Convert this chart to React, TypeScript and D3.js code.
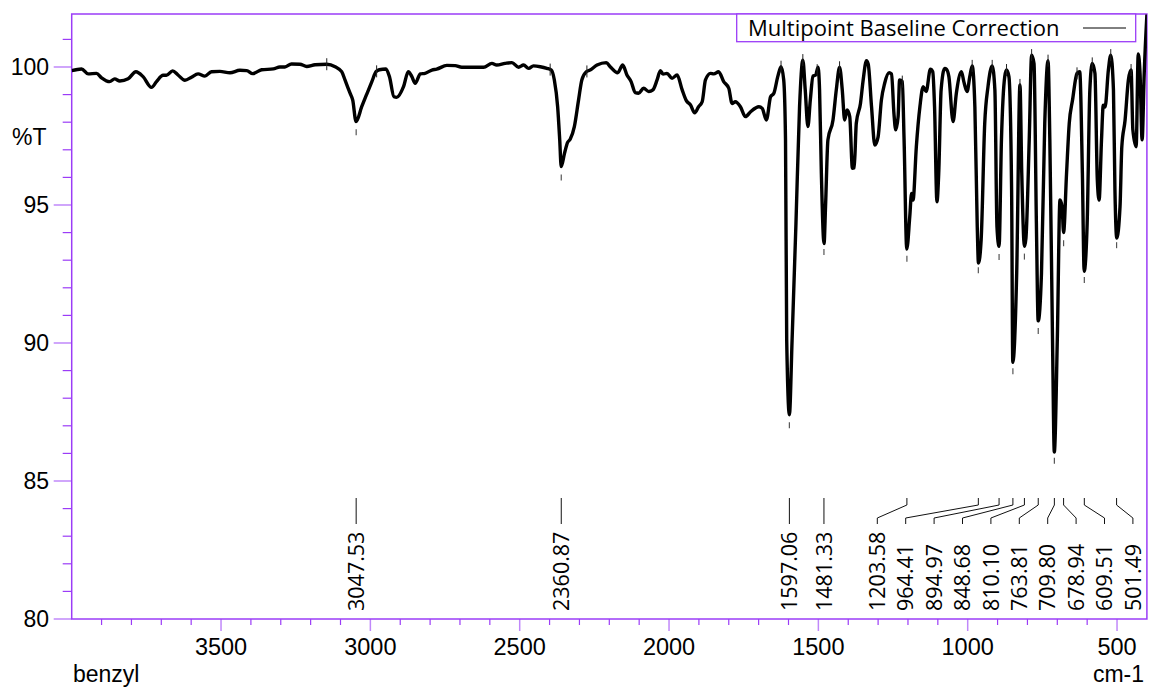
import React from 'react';
import * as d3 from 'd3';

// IR spectrum (cm-1, %T)
const wavenumbers = [
  4000, 3967, 3945, 3917, 3900, 3873, 3856, 3839, 3811, 3785,
  3761, 3733, 3716, 3694, 3683, 3662, 3644, 3621, 3599, 3577,
  3554, 3532, 3504, 3470, 3437, 3414, 3394, 3364, 3325, 3303,
  3286, 3264, 3236, 3213, 3185, 3146, 3118, 3096, 3085, 3068,
  3059, 3048, 3029, 3012, 2995, 2981, 2970, 2948, 2936, 2921,
  2912, 2889, 2873, 2861, 2850, 2833, 2817, 2794, 2778, 2744,
  2716, 2694, 2666, 2621, 2593, 2577, 2549, 2526, 2504, 2487,
  2470, 2454, 2431, 2409, 2394, 2384, 2373, 2366, 2361, 2350,
  2340, 2331, 2317, 2303, 2292, 2277, 2264, 2241, 2210, 2197,
  2172, 2155, 2141, 2127, 2113, 2102, 2085, 2068, 2054, 2040,
  2029, 2020, 2007, 1990, 1973, 1956, 1942, 1928, 1914, 1901,
  1889, 1878, 1861, 1850, 1834, 1817, 1800, 1789, 1778, 1761,
  1744, 1727, 1699, 1688, 1674, 1660, 1649, 1636, 1625, 1616,
  1610, 1606, 1597, 1588, 1575, 1563, 1552, 1544, 1535, 1527,
  1518, 1509, 1501, 1496, 1490, 1481, 1476, 1468, 1451, 1440,
  1429, 1420, 1412, 1404, 1395, 1386, 1380, 1373, 1359, 1350,
  1339, 1333, 1322, 1311, 1300, 1289, 1278, 1263, 1255, 1247,
  1241, 1233, 1228, 1219, 1213, 1204, 1194, 1188, 1183, 1172,
  1160, 1149, 1139, 1125, 1117, 1111, 1103, 1097, 1089, 1077,
  1071, 1063, 1049, 1038, 1021, 1013, 1002, 993, 985, 976,
  968, 964, 955, 943, 932, 918, 909, 902, 895, 887,
  876, 870, 862, 853, 849, 836, 825, 819, 810, 805,
  794, 786, 778, 770, 764, 753, 742, 731, 725, 716,
  710, 700, 691, 684, 679, 669, 660, 649, 634, 625,
  616, 610, 600, 591, 583, 574, 566, 560, 552, 546,
  540, 529, 521, 512, 507, 501, 490, 484, 473, 462,
  453, 447, 436, 429, 423, 416, 409, 400,
];

const transmittance = [
  99.87, 99.93, 99.75, 99.77, 99.61, 99.47, 99.57, 99.49, 99.57, 99.83,
  99.65, 99.26, 99.47, 99.70, 99.70, 99.86, 99.71, 99.52, 99.63, 99.75,
  99.67, 99.83, 99.84, 99.79, 99.88, 99.87, 99.76, 99.90, 99.93, 100.0,
  100.0, 100.11, 100.1, 100.02, 100.08, 100.1, 100.01, 99.83, 99.53, 99.05,
  98.8, 98.02, 98.56, 99.02, 99.47, 99.83, 99.9, 99.93, 99.65, 98.92,
  98.9, 99.29, 99.83, 99.65, 99.41, 99.75, 99.77, 99.89, 99.92, 100.06,
  100.05, 99.99, 99.99, 99.99, 100.13, 100.07, 100.13, 100.16, 99.99, 100.07,
  99.95, 100.04, 100.01, 99.95, 99.89, 99.53, 98.56, 97.36, 96.39, 96.87,
  97.26, 97.38, 97.84, 98.8, 99.53, 99.83, 99.89, 100.07, 100.16, 100.01,
  99.79, 100.07, 99.71, 99.47, 99.07, 99.05, 99.23, 99.11, 99.17, 99.53,
  99.87, 99.74, 99.77, 99.59, 99.71, 99.17, 98.78, 98.62, 98.34, 98.56,
  98.74, 99.53, 99.77, 99.75, 99.83, 99.47, 99.23, 98.68, 98.74, 98.56,
  98.2, 98.38, 98.56, 98.5, 98.08, 98.92, 99.05, 99.65, 100.01, 99.53,
  97.36, 90.1, 87.4, 90.1, 94.34, 98.56, 100.25, 99.17, 97.84, 98.8,
  99.67, 99.71, 99.99, 99.17, 96.15, 93.6, 94.94, 97.36, 98.08, 99.17,
  99.99, 99.17, 98.08, 98.44, 98.2, 96.33, 96.35, 97.96, 98.68, 99.53,
  100.23, 100.1, 98.56, 97.17, 97.47, 98.8, 99.41, 99.79, 99.75, 98.32,
  97.72, 98.2, 99.53, 99.47, 97.36, 93.4, 94.58, 95.42, 95.18, 97.11,
  98.56, 99.29, 99.11, 99.92, 99.83, 98.56, 95.12, 96.15, 99.17, 99.95,
  99.92, 99.65, 98.02, 99.05, 99.83, 99.47, 99.11, 99.65, 100.04, 98.56,
  94.21, 92.9, 93.73, 97.96, 99.29, 100.04, 99.17, 94.21, 93.5, 97.36,
  99.65, 99.89, 99.65, 95.54, 89.3, 92.52, 99.35, 96.15, 93.5, 93.8,
  97.36, 100.43, 100.13, 94.34, 90.8, 92.52, 97.96, 100.23, 97.36, 90.11,
  86.05, 90.11, 95.18, 94.94, 94.0, 96.15, 97.96, 98.8, 99.77, 99.83,
  96.15, 92.6, 94.34, 99.17, 100.13, 99.77, 95.91, 95.18, 97.36, 98.62,
  98.55, 99.89, 100.43, 99.17, 95.54, 93.8, 94.94, 97.11, 98.08, 99.53,
  99.89, 97.72, 97.11, 100.47, 99.77, 97.36, 99.77, 101.9,
];

const peakLabels = [
  3047.53, 2360.87, 1597.06, 1481.33, 1203.58, 964.41, 894.97,
  848.68, 810.1, 763.81, 709.8, 678.94, 609.51, 501.49,
];

// baseline anchor points of the multipoint correction
const baselinePoints = [
  3146, 2979, 2398, 2275, 1625, 1552, 1504, 1429, 1219, 985,
  918, 870, 825, 786, 731, 634, 583, 521, 453,
];

const xMajorTicks = [3500, 3000, 2500, 2000, 1500, 1000, 500];
const yMajorTicks = [80, 85, 90, 95, 100];

const AXIS = '#9b3cf7';
const MAJOR = '#c088fa';
const TICK_FONT = '"Liberation Sans", Arial, sans-serif';
const LABEL_FONT = '"Open Sans", "Noto Sans", sans-serif';

const frame = { left: 71.7, right: 1146.9, top: 14, bottom: 619 };

function tAt(wn: number) {
  for (let i = 0; i < wavenumbers.length - 1; i++) {
    const a = wavenumbers[i], b = wavenumbers[i + 1];
    if (wn <= a && wn >= b) {
      const t = (a - wn) / (a - b);
      return transmittance[i] + t * (transmittance[i + 1] - transmittance[i]);
    }
  }
  return transmittance[transmittance.length - 1];
}

// spread crowded labels apart, keeping groups centred on their peaks
function layoutLabels(xs: number[], gap: number, lo: number, hi: number) {
  type Cluster = { ids: number[]; sum: number; pos: number };
  const place = (c: Cluster) => {
    const n = c.ids.length;
    let start = c.sum / n - ((n - 1) * gap) / 2;
    start = Math.min(start, hi - (n - 1) * gap);
    start = Math.max(start, lo);
    c.pos = start;
  };
  const clusters: Cluster[] = [];
  xs.forEach((xv, i) => {
    const c: Cluster = { ids: [i], sum: xv, pos: xv };
    place(c);
    clusters.push(c);
    while (clusters.length > 1) {
      const b = clusters[clusters.length - 1];
      const a = clusters[clusters.length - 2];
      if (a.pos + a.ids.length * gap <= b.pos) break;
      a.ids.push(...b.ids);
      a.sum += b.sum;
      clusters.pop();
      place(a);
    }
  });
  const out: number[] = new Array(xs.length);
  clusters.forEach(c => c.ids.forEach((id, k) => (out[id] = c.pos + k * gap)));
  return out;
}

export default function App() {
  const x = d3.scaleLinear().domain([4000, 400]).range([frame.left, frame.right]);
  const y = d3.scaleLinear().domain([80, 101.92]).range([frame.bottom, frame.top]);

  const pts = wavenumbers.map((w, i) => [x(w), y(transmittance[i])] as [number, number]);
  const path = d3.line().curve(d3.curveMonotoneX)(pts) || '';

  const xMinor = d3.range(3900, 400, -100).filter(v => v % 500 !== 0);
  const yMinor = d3.range(81, 102).filter(v => v % 5 !== 0);

  const peakX = peakLabels.map(p => x(p));
  const labelX = layoutLabels(peakX, 28.4, frame.left + 14, frame.right - 14);

  return (
    <svg width={1149} height={689} style={{ position: 'absolute', left: 0, top: 0, background: '#fff' }}>
      <defs>
        <clipPath id="plot">
          <rect x={frame.left} y={frame.top} width={frame.right - frame.left} height={frame.bottom - frame.top} />
        </clipPath>
      </defs>

      {/* y ticks */}
      {yMinor.map(v => (
        <line key={'ym' + v} x1={frame.left - 9} x2={frame.left} y1={y(v)} y2={y(v)} stroke={AXIS} strokeWidth={1.2} />
      ))}
      {yMajorTicks.map(v => (
        <g key={'yM' + v}>
          <line x1={frame.left - 18} x2={frame.left} y1={y(v)} y2={y(v)} stroke={MAJOR} strokeWidth={1.5} />
          <text x={49} y={y(v)} dy="0.36em" textAnchor="end" fontFamily={TICK_FONT} fontSize={23}>{v}</text>
        </g>
      ))}
      <text x={12} y={137} dy="0.36em" fontFamily={TICK_FONT} fontSize={23}>%T</text>

      {/* x ticks */}
      {xMinor.map(v => (
        <line key={'xm' + v} x1={x(v)} x2={x(v)} y1={frame.bottom} y2={frame.bottom + 6} stroke={AXIS} strokeWidth={1.2} />
      ))}
      {xMajorTicks.map(v => (
        <g key={'xM' + v}>
          <line x1={x(v)} x2={x(v)} y1={frame.bottom} y2={frame.bottom + 12} stroke={MAJOR} strokeWidth={1.5} />
          <text x={x(v)} y={655} textAnchor="middle" fontFamily={TICK_FONT} fontSize={23.5}>{v}</text>
        </g>
      ))}
      <text x={73} y={682} fontFamily={TICK_FONT} fontSize={23}>benzyl</text>
      <text x={1144} y={682} textAnchor="end" fontFamily={TICK_FONT} fontSize={23}>cm-1</text>

      {/* frame */}
      <rect x={frame.left} y={frame.top} width={frame.right - frame.left} height={frame.bottom - frame.top}
        fill="none" stroke={AXIS} strokeWidth={1.5} />

      {/* spectrum */}
      <g clipPath="url(#plot)">
        <path d={path} fill="none" stroke="#000" strokeWidth={3.4} strokeLinejoin="round" />
        {baselinePoints.map(b => (
          <line key={'b' + b} x1={x(b)} x2={x(b)} y1={y(tAt(b)) - 6} y2={y(tAt(b)) + 6} stroke="#222" strokeWidth={1} />
        ))}
      </g>

      {/* peak markers and labels */}
      {peakLabels.map((p, i) => {
        const py = y(tAt(p));
        const px = peakX[i];
        const lx = labelX[i];
        const lead = Math.abs(px - lx) < 0.5
          ? `M${px},498 L${px},524`
          : `M${px},498 L${px},505 L${lx},518 L${lx},524`;
        return (
          <g key={'p' + p}>
            <line x1={px} x2={px} y1={py + 8} y2={py + 14} stroke="#555" strokeWidth={1.2} />
            <path d={lead} fill="none" stroke="#111" strokeWidth={1} />
            <text transform={`translate(${lx},611) rotate(-90)`} dy="0.36em" fontFamily={LABEL_FONT} fontSize={21.5}>
              {p.toFixed(2)}
            </text>
          </g>
        );
      })}

      {/* legend */}
      <rect x={736.7} y={frame.top} width={399} height={27.7} fill="#fff" stroke={AXIS} strokeWidth={1.3} />
      <text x={748} y={36} fontFamily={LABEL_FONT} fontSize={22}>Multipoint Baseline Correction</text>
      <line x1={1083} x2={1126} y1={28} y2={28} stroke="#000" strokeWidth={1} />
    </svg>
  );
}
